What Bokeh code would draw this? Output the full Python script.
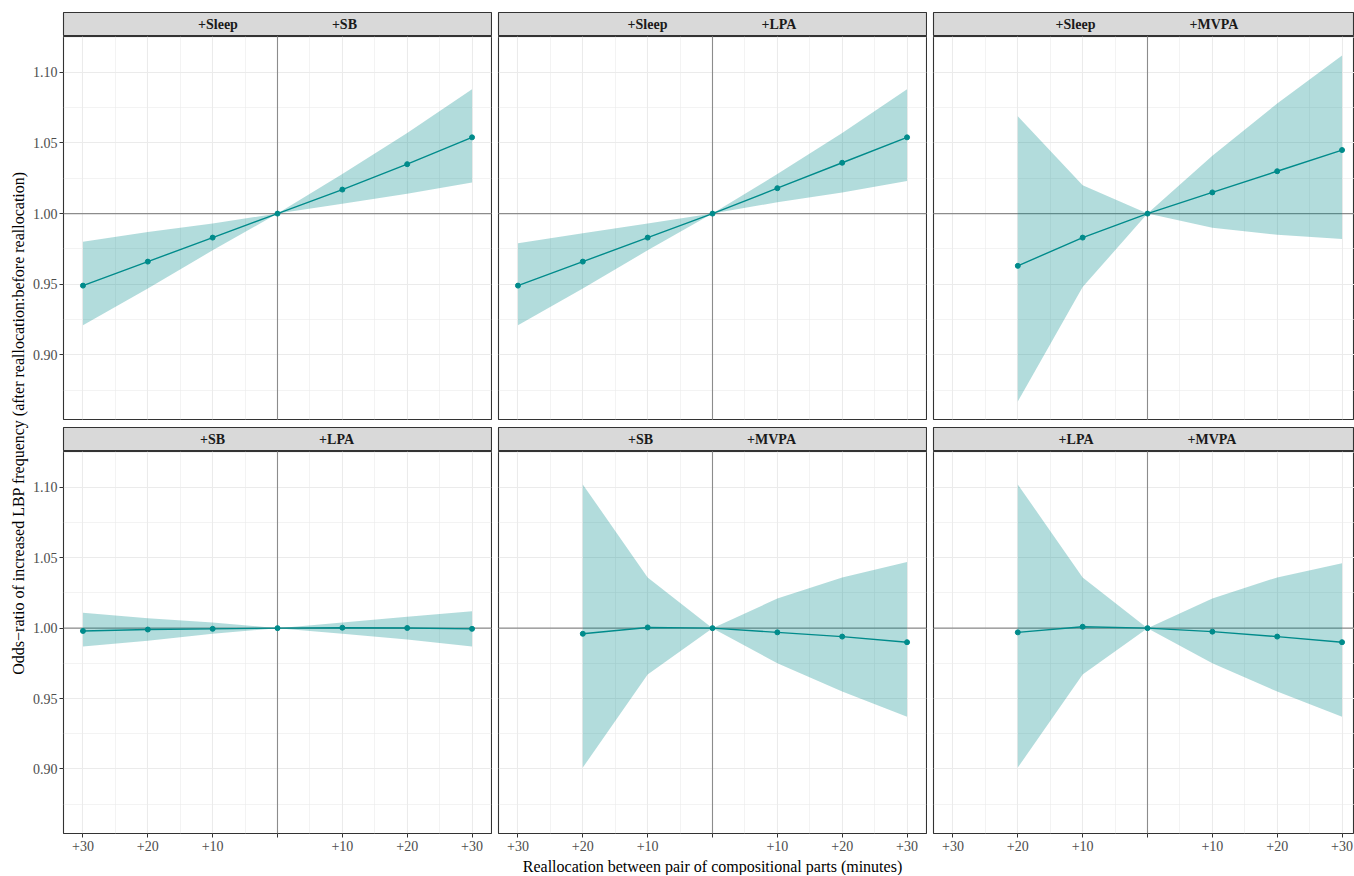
import math
from bokeh.plotting import figure
from bokeh.models import Range1d, FixedTicker, Span
from bokeh.layouts import row, column
from bokeh.embed import file_html
from bokeh.resources import INLINE
from bokeh.core.properties import value

FONT = "Liberation Serif"
TEAL = "#008B8B"

# ---------------- data ----------------
x_full = [-30, -20, -10, 0, 10, 20, 30]
x_mvpa = [-20, -10, 0, 10, 20, 30]

# +Sleep / +SB
p1_est = [0.949, 0.966, 0.983, 1.000, 1.017, 1.035, 1.054]
p1_lo = [0.921, 0.947, 0.974, 1.000, 1.007, 1.014, 1.022]
p1_hi = [0.980, 0.987, 0.993, 1.000, 1.028, 1.057, 1.088]
# +Sleep / +LPA
p2_est = [0.949, 0.966, 0.983, 1.000, 1.018, 1.036, 1.054]
p2_lo = [0.921, 0.947, 0.974, 1.000, 1.008, 1.015, 1.023]
p2_hi = [0.979, 0.986, 0.993, 1.000, 1.028, 1.057, 1.088]
# +Sleep / +MVPA
p3_est = [0.963, 0.983, 1.000, 1.015, 1.030, 1.045]
p3_lo = [0.867, 0.948, 1.000, 0.990, 0.985, 0.982]
p3_hi = [1.069, 1.020, 1.000, 1.041, 1.078, 1.112]
# +SB / +LPA
p4_est = [0.998, 0.999, 0.9995, 1.000, 1.0003, 1.0001, 0.9995]
p4_lo = [0.987, 0.991, 0.996, 1.000, 0.996, 0.992, 0.987]
p4_hi = [1.011, 1.007, 1.004, 1.000, 1.004, 1.008, 1.012]
# +SB / +MVPA
p5_est = [0.996, 1.0005, 1.000, 0.997, 0.994, 0.990]
p5_lo = [0.901, 0.967, 1.000, 0.975, 0.955, 0.937]
p5_hi = [1.102, 1.036, 1.000, 1.021, 1.036, 1.047]
# +LPA / +MVPA
p6_est = [0.997, 1.001, 1.000, 0.9975, 0.994, 0.990]
p6_lo = [0.901, 0.967, 1.000, 0.975, 0.955, 0.937]
p6_hi = [1.102, 1.036, 1.000, 1.021, 1.036, 1.046]

strip_labels = [("+Sleep", "+SB"), ("+Sleep", "+LPA"), ("+Sleep", "+MVPA"),
                ("+SB", "+LPA"), ("+SB", "+MVPA"), ("+LPA", "+MVPA")]

x_ticks = [-30, -20, -10, 0, 10, 20, 30]
x_tick_labels = ["+30", "+20", "+10", "", "+10", "+20", "+30"]
x_minor = [-25, -15, -5, 5, 15, 25]
y_ticks = [0.90, 0.95, 1.00, 1.05, 1.10]
y_tick_labels = ["0.90", "0.95", "1.00", "1.05", "1.10"]
y_minor = [0.875, 0.925, 0.975, 1.025, 1.075, 1.125]

x_title = "Reallocation between pair of compositional parts (minutes)"
y_title = "Odds\u2212ratio of increased LBP frequency (after reallocation:before reallocation)"

panels = [
    (x_full, p1_est, p1_lo, p1_hi),
    (x_full, p2_est, p2_lo, p2_hi),
    (x_mvpa, p3_est, p3_lo, p3_hi),
    (x_full, p4_est, p4_lo, p4_hi),
    (x_mvpa, p5_est, p5_lo, p5_hi),
    (x_mvpa, p6_est, p6_lo, p6_hi),
]

# ---------------- layout constants ----------------
YT_W = 29
FULL_FRAME_W = 428
FRAME_W = [428, 428, 421]          # last panel is cut by the window edge
B_LEFT = [34, 6, 6]
B_RIGHT = [1, 1, 0]
COL_W = [B_LEFT[i] + FRAME_W[i] + B_RIGHT[i] for i in range(3)]
STRIP_H = 24
TOP_PAD = 12
TOP_FRAME = 383
ROW_GAP = 8
BOT_FRAME = 382
BOT_AXIS = 24
XT_H = 18
TOTAL_H = TOP_PAD + STRIP_H + TOP_FRAME + ROW_GAP + STRIP_H + BOT_FRAME + BOT_AXIS + XT_H

X_LO, X_HI = -33.0, 33.0
PXU = FULL_FRAME_W / (X_HI - X_LO)     # pixels per x unit
X_RANGES = [(X_LO, X_LO + FRAME_W[i] / PXU) for i in range(3)]
Y_RANGE = (0.8542, 1.1254)

STRIP_FS = 14
STRIP_GAP = 94  # px between the two words of a strip label
CHAR_W = {"+": 0.570, "S": 0.556, "l": 0.278, "e": 0.444, "p": 0.556, "B": 0.667,
          "L": 0.667, "P": 0.611, "A": 0.722, "M": 0.944, "V": 0.722}


def text_w(s):
    return sum(CHAR_W.get(c, 0.55) for c in s) * STRIP_FS


def base_fig(w, h, **kw):
    return figure(width=w, height=h, output_backend="svg", toolbar_location=None,
                  background_fill_color="white", border_fill_color="white", **kw)


def strip_fig(col, left_txt, right_txt, top_pad):
    p = base_fig(COL_W[col], STRIP_H + top_pad,
                 x_range=Range1d(*X_RANGES[col]), y_range=Range1d(0, 1),
                 x_axis_location=None, y_axis_location=None,
                 min_border_left=B_LEFT[col], min_border_right=B_RIGHT[col],
                 min_border_top=top_pad, min_border_bottom=0)
    p.grid.visible = False
    p.background_fill_color = "#D9D9D9"
    p.outline_line_color = "#333333"
    p.outline_line_width = 1.1
    wl, wr = text_w(left_txt), text_w(right_txt)
    xl = (wl - STRIP_GAP - wr) / 2 / PXU
    xr = (wl + STRIP_GAP - wr) / 2 / PXU
    kw = dict(text_baseline="middle", text_font=value(FONT), text_font_style="bold",
              text_font_size=f"{STRIP_FS}px", text_color="#1A1A1A")
    p.text(x=[xl], y=[0.5], text=[left_txt], text_align="right", **kw)
    p.text(x=[xr], y=[0.5], text=[right_txt], text_align="left", **kw)
    return p


def main_fig(col, bottom_row, data):
    xs, est, lo, hi = data
    frame_h = BOT_FRAME if bottom_row else TOP_FRAME
    b_bottom = BOT_AXIS if bottom_row else ROW_GAP
    p = base_fig(COL_W[col], frame_h + b_bottom,
                 x_range=Range1d(*X_RANGES[col]), y_range=Range1d(*Y_RANGE),
                 x_axis_location="below" if bottom_row else None,
                 y_axis_location="left" if col == 0 else None,
                 min_border_left=B_LEFT[col], min_border_right=B_RIGHT[col],
                 min_border_top=0, min_border_bottom=b_bottom)
    p.outline_line_color = "#333333"
    p.outline_line_width = 1.1

    p.xgrid.ticker = FixedTicker(ticks=x_ticks, minor_ticks=x_minor)
    p.ygrid.ticker = FixedTicker(ticks=y_ticks, minor_ticks=y_minor)
    for g in (p.xgrid, p.ygrid):
        g.grid_line_color = "#EBEBEB"
        g.grid_line_width = 1.1
        g.minor_grid_line_color = "#EBEBEB"
        g.minor_grid_line_width = 0.6

    axes = []
    if bottom_row:
        ax = p.xaxis[0]
        ax.ticker = FixedTicker(ticks=x_ticks)
        ax.major_label_overrides = {t: l for t, l in zip(x_ticks, x_tick_labels)}
        ax.major_label_standoff = 3
        axes.append(ax)
    if col == 0:
        ax = p.yaxis[0]
        ax.ticker = FixedTicker(ticks=y_ticks)
        ax.major_label_overrides = {t: l for t, l in zip(y_ticks, y_tick_labels)}
        ax.major_label_standoff = 2
        axes.append(ax)
    for ax in axes:
        ax.minor_tick_line_color = None
        ax.axis_line_color = None
        ax.major_tick_line_color = "#333333"
        ax.major_tick_out = 4
        ax.major_tick_in = 0
        ax.major_label_text_font = FONT
        ax.major_label_text_font_size = "14px"
        ax.major_label_text_color = "#4D4D4D"

    p.add_layout(Span(location=0, dimension="height", line_color="#8C8C8C",
                      line_width=1.1, level="underlay"))
    p.add_layout(Span(location=1, dimension="width", line_color="#8C8C8C",
                      line_width=1.1, level="underlay"))

    p.varea(x=xs, y1=lo, y2=hi, fill_color=TEAL, fill_alpha=0.3)
    p.line(x=xs, y=est, line_color=TEAL, line_width=1.4)
    p.scatter(x=xs, y=est, size=5, fill_color=TEAL, line_color=TEAL)
    return p


# ---------------- build ----------------
top_strips = [strip_fig(c, *strip_labels[c], TOP_PAD) for c in range(3)]
top_mains = [main_fig(c, False, panels[c]) for c in range(3)]
bot_strips = [strip_fig(c, *strip_labels[3 + c], 0) for c in range(3)]
bot_mains = [main_fig(c, True, panels[3 + c]) for c in range(3)]

# x-axis title strip, centred under the whole panel area
total_w = sum(COL_W)
xt = base_fig(total_w, XT_H, x_range=Range1d(0, total_w), y_range=Range1d(0, XT_H),
              x_axis_location=None, y_axis_location=None,
              min_border_left=0, min_border_right=0, min_border_top=0, min_border_bottom=0)
xt.grid.visible = False
xt.outline_line_color = None
area_left = B_LEFT[0]
area_right = COL_W[0] + COL_W[1] + B_LEFT[2] + FULL_FRAME_W
xt.text(x=[(area_left + area_right) / 2], y=[XT_H / 2], text=[x_title],
        text_align="center", text_baseline="middle", text_font=value(FONT),
        text_font_size="16px", text_color="black")

yt = base_fig(YT_W, TOTAL_H, x_range=Range1d(0, YT_W), y_range=Range1d(0, TOTAL_H),
              x_axis_location=None, y_axis_location=None,
              min_border_left=0, min_border_right=0, min_border_top=0, min_border_bottom=0)
yt.grid.visible = False
yt.outline_line_color = None
panel_top = TOP_PAD
panel_bottom = TOP_PAD + STRIP_H + TOP_FRAME + ROW_GAP + STRIP_H + BOT_FRAME
yt.text(x=[18], y=[TOTAL_H - (panel_top + panel_bottom) / 2], text=[y_title],
        angle=math.pi / 2, text_align="center", text_baseline="middle",
        text_font=value(FONT), text_font_size="16px", text_color="black")

grid_col = column(row(*top_strips, spacing=0), row(*top_mains, spacing=0),
                  row(*bot_strips, spacing=0), row(*bot_mains, spacing=0), xt, spacing=0)
layout = row(yt, grid_col, spacing=0)

open("out.html", "w").write(file_html(layout, INLINE))
